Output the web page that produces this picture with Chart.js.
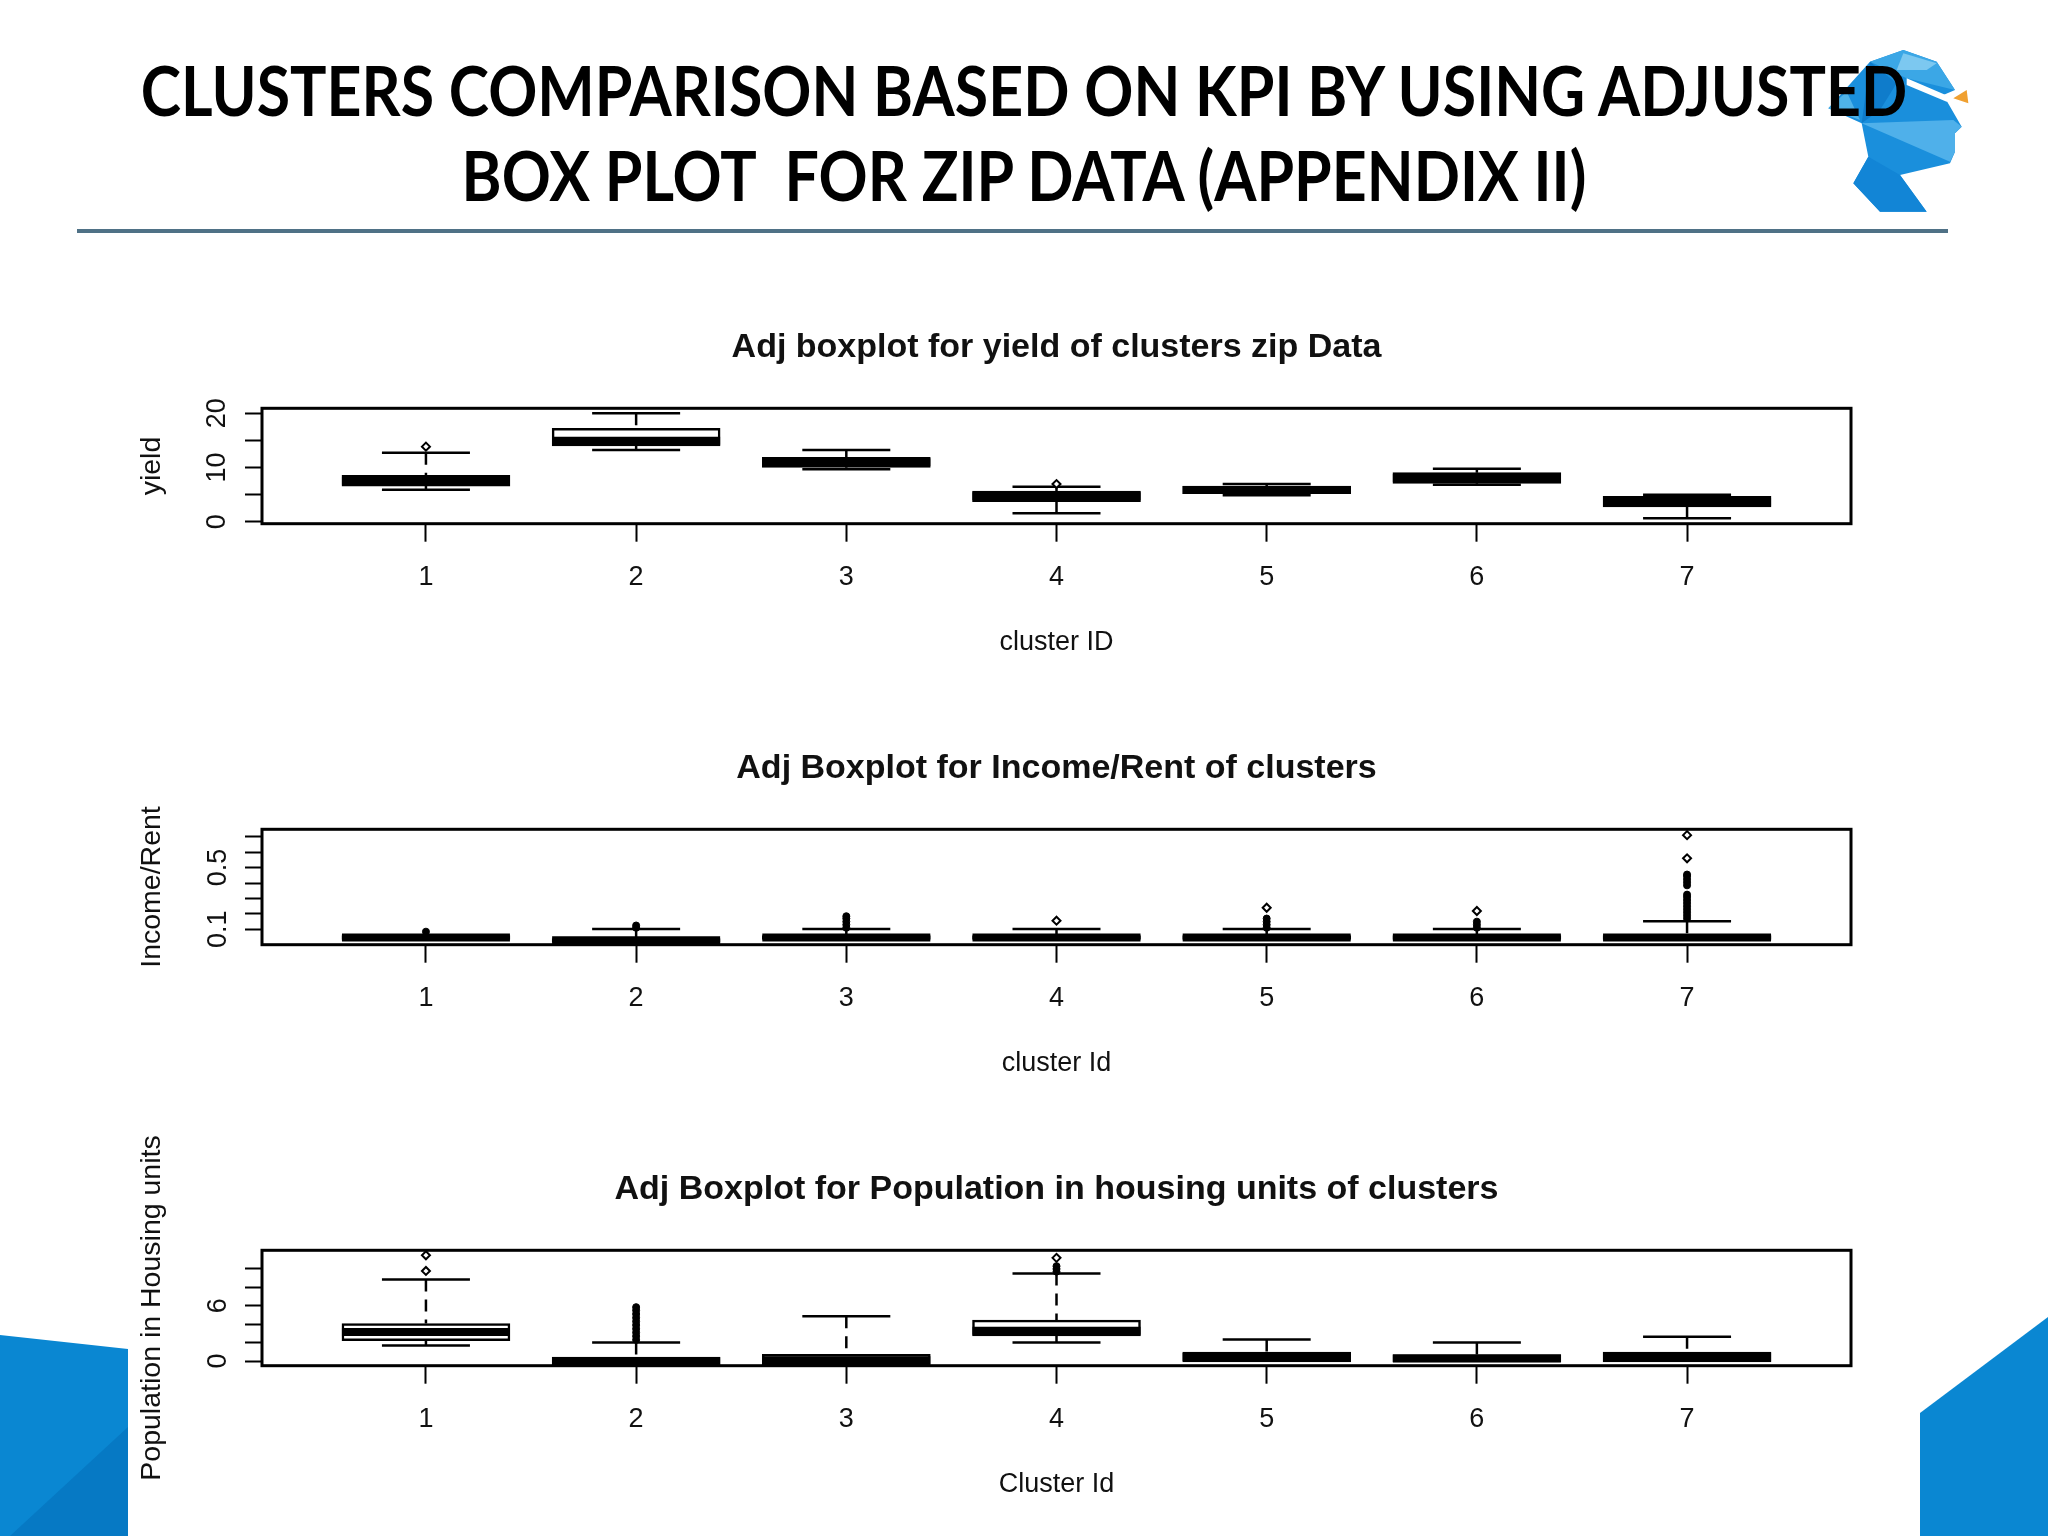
<!DOCTYPE html>
<html lang="en">
<head>
<meta charset="utf-8">
<title>Clusters comparison</title>
<script src="https://cdn.jsdelivr.net/npm/chart.js@4/dist/chart.umd.min.js"></script>
<style>
    html, body { margin: 0; padding: 0; background: #fff; }
    #slide { position: relative; width: 2048px; height: 1536px; overflow: hidden; background: #fff; }
    #slide > svg { position: absolute; }
    #slide canvas { position: absolute; left: 0; }
    #heading {
        position: absolute; left: 0; top: 47px; width: 2048px; text-align: center;
        font: 700 68px/85px Lato, sans-serif; color: #000; white-space: pre;
        transform: scaleX(0.895);
    }
    #rule { position: absolute; left: 77px; top: 229px; width: 1871px; height: 4px; background: #4f7186; }
</style>
</head>
<body>
<div id="slide">
    <svg style="left:0;top:0" width="2048" height="1536">
        <polygon points="0,1335 128,1349 128,1536 0,1536" fill="#0a87d2"/>
        <polygon points="128,1427 128,1536 10,1536" fill="#0679c4"/>
        <polygon points="1920,1413 2048,1317 2048,1536 1920,1536" fill="#0a87d2"/>
    </svg>
    <svg style="left:1780px;top:20px" width="220" height="220" viewBox="0 0 660 660">
        <polygon points="145,265 270,125 370,90 470,125 525,210 490,225 545,320 525,340 525,395 510,430 360,465 440,575 300,575 220,490 265,410 245,310" fill="#1a8fdc"/>
        <polygon points="270,125 370,90 470,125 525,210 380,175" fill="#3ba7e6"/>
        <polygon points="370,100 470,130 440,150 350,150" fill="#7cc8f0"/>
        <polygon points="245,310 270,125 350,190 300,270" fill="#0f7ccb"/>
        <polygon points="245,310 520,300 545,320 525,340 525,395 510,425" fill="#4fb0ea"/>
        <polygon points="220,490 265,410 360,465 440,575 300,575" fill="#1285d6"/>
        <polygon points="145,265 200,215 240,300" fill="#4fb3e8"/>
        <polygon points="380,175 520,235 500,245 380,195" fill="#fff"/>
        <polygon points="520,235 560,210 565,250" fill="#f0a030"/>
    </svg>
    <div id="heading">CLUSTERS COMPARISON BASED ON KPI BY USING ADJUSTED
BOX PLOT  FOR ZIP DATA (APPENDIX II)</div>
    <div id="rule"></div>
    <canvas id="yieldChart" width="2048" height="421" style="top:250px"></canvas>
    <canvas id="incomeChart" width="2048" height="421" style="top:671px"></canvas>
    <canvas id="populationChart" width="2048" height="421" style="top:1092px"></canvas>
</div>

<script>
const categories = [1, 2, 3, 4, 5, 6, 7];

// yield panel
const yieldQ1 = [6.58, 13.97, 10.03, 3.69, 5.17, 7.08, 2.71];
const yieldMedian = [7.57, 14.95, 10.95, 4.68, 5.85, 8.06, 3.7];
const yieldQ3 = [8.55, 17.23, 11.88, 5.66, 6.58, 9.05, 4.68];
const yieldLow = [5.9, 13.23, 9.66, 1.54, 4.86, 6.83, 0.62];
const yieldHigh = [12.74, 20, 13.23, 6.46, 6.95, 9.78, 4.98];
const yieldOutliers = [[13.85], [], [], [6.95], [], [], []];
const yieldDense = [[], [], [], [], [], [], []];
const yieldTicks = [0, 5, 10, 15, 20];
const yieldLabels = [0, 10, 20];

// income / rent panel
const incomeQ1 = [0.035, 0.015, 0.035, 0.035, 0.035, 0.035, 0.035];
const incomeMedian = [0.048, 0.029, 0.048, 0.048, 0.048, 0.048, 0.048];
const incomeQ3 = [0.06, 0.04, 0.06, 0.06, 0.06, 0.06, 0.06];
const incomeLow = [0.04, 0.02, 0.04, 0.04, 0.04, 0.04, 0.04];
const incomeHigh = [0.055, 0.102, 0.102, 0.102, 0.102, 0.102, 0.152];
const incomeOutliers = [[], [], [], [0.156], [0.24], [0.219], [0.56, 0.71]];
const incomeDense = [
    [0.085],
    [0.11, 0.125],
    [0.11, 0.13, 0.15, 0.17, 0.185],
    [],
    [0.11, 0.13, 0.15, 0.17],
    [0.11, 0.13, 0.15],
    [0.17, 0.19, 0.21, 0.23, 0.25, 0.27, 0.29, 0.31, 0.325, 0.385, 0.405, 0.425, 0.445, 0.455]
];
const incomeTicks = [0.1, 0.2, 0.3, 0.4, 0.5, 0.6, 0.7];
const incomeLabels = [0.1, 0.5];

// population panel
const populationQ1 = [2.2, -0.45, -0.45, 2.74, -0.1, -0.1, -0.1];
const populationMedian = [3.14, -0.03, 0.1, 3.28, 0.43, 0.29, 0.43];
const populationQ3 = [4.08, 0.43, 0.72, 4.44, 0.97, 0.69, 0.97];
const populationLow = [1.7, -0.3, -0.3, 2.02, 0.2, 0.2, 0.2];
const populationHigh = [8.84, 2.02, 4.87, 9.49, 2.35, 2.02, 2.64];
const populationOutliers = [[9.78, 11.48], [], [], [11.2], [], [], []];
const populationDense = [
    [],
    [2.3, 2.7, 3.1, 3.5, 3.9, 4.3, 4.7, 5.1, 5.5, 5.85],
    [],
    [9.7, 10.0, 10.3],
    [], [], []
];
const populationTicks = [0, 2, 4, 6, 8, 10];
const populationLabels = [0, 6];

const inkColor = '#000';
const textColor = '#111';
const labelFont = { family: '"Liberation Sans", Arial, sans-serif', size: 27 };
const yTitleFont = { family: labelFont.family, size: 28.5 };

const boxFrame = {
    id: 'boxFrame',
    afterDatasetsDraw(chart) {
        const { ctx, chartArea } = chart;
        ctx.save();
        ctx.strokeStyle = inkColor;
        ctx.lineWidth = 3;
        ctx.strokeRect(chartArea.left, chartArea.top, chartArea.right - chartArea.left, chartArea.bottom - chartArea.top);
        ctx.restore();
    },
};

function stemData(low, q1, q3, high) {
    const points = [];
    categories.forEach((c, i) => {
        points.push({ x: c, y: high[i] }, { x: c, y: q3[i] }, { x: c, y: null });
        points.push({ x: c, y: low[i] }, { x: c, y: q1[i] }, { x: c, y: null });
    });
    return points;
}

function pointData(lists) {
    const points = [];
    categories.forEach((c, i) => lists[i].forEach((v) => points.push({ x: c, y: v })));
    return points;
}

function drawPanel(id, panel) {
    const markStyle = { showLine: false, pointBorderColor: inkColor };
    new Chart(document.getElementById(id).getContext('2d'), {
        type: 'bar',
        data: {
            datasets: [
                {
                    type: 'line', order: 6, data: stemData(panel.low, panel.q1, panel.q3, panel.high),
                    borderColor: inkColor, borderWidth: 2.5, borderDash: [12, 8], pointRadius: 0, spanGaps: false,
                },
                {
                    type: 'bar', order: 5, grouped: false, barThickness: 168,
                    data: categories.map((c, i) => ({ x: c, y: [panel.q1[i], panel.q3[i]] })),
                    backgroundColor: '#fff', borderColor: inkColor, borderWidth: 2.5, borderSkipped: false,
                },
                {
                    type: 'line', order: 4, ...markStyle,
                    data: categories.map((c, i) => ({ x: c, y: panel.median[i] })),
                    pointStyle: 'line', pointRadius: 84, pointBorderWidth: 8,
                },
                {
                    type: 'line', order: 3, ...markStyle,
                    data: categories.flatMap((c, i) => [{ x: c, y: panel.low[i] }, { x: c, y: panel.high[i] }]),
                    pointStyle: 'line', pointRadius: 44, pointBorderWidth: 2.5,
                },
                {
                    type: 'line', order: 2, ...markStyle, data: pointData(panel.outliers),
                    pointStyle: 'rectRot', pointRadius: 4, pointBorderWidth: 2, pointBackgroundColor: '#fff',
                },
                {
                    type: 'line', order: 1, ...markStyle, data: pointData(panel.dense),
                    pointStyle: 'circle', pointRadius: 3.5, pointBorderWidth: 1, pointBackgroundColor: inkColor,
                },
            ],
        },
        options: {
            responsive: false,
            animation: false,
            layout: { padding: { left: 0, right: 197, top: 0, bottom: 0 } },
            plugins: {
                legend: { display: false },
                tooltip: { enabled: false },
                title: {
                    display: true,
                    fullSize: false,
                    text: panel.title,
                    color: textColor,
                    font: { family: labelFont.family, size: 34, weight: 'bold', lineHeight: 1.2 },
                    padding: { top: 77, bottom: 40.5 },
                },
            },
            scales: {
                x: {
                    type: 'linear',
                    offset: false,
                    min: 0.22,
                    max: 7.78,
                    afterFit(scale) { scale.height = 147.3; },
                    afterBuildTicks(scale) { scale.ticks = categories.map((c) => ({ value: c })); },
                    grid: { offset: false, drawOnChartArea: false, tickLength: 18, tickWidth: 2, tickColor: inkColor },
                    border: { display: false },
                    ticks: { color: textColor, font: labelFont, padding: 20, maxRotation: 0, autoSkip: false, callback: (v) => v },
                    title: { display: true, text: panel.xTitle, color: textColor, font: labelFont, padding: { top: 0, bottom: 12.3 } },
                },
                y: {
                    type: 'linear',
                    min: panel.yMin,
                    max: panel.yMax,
                    afterFit(scale) { scale.width = 262; },
                    afterBuildTicks(scale) { scale.ticks = panel.ticks.map((v) => ({ value: v })); },
                    grid: { drawOnChartArea: false, tickLength: 17, tickWidth: 2, tickColor: inkColor },
                    border: { display: false },
                    ticks: {
                        color: textColor, font: labelFont, padding: panel.tickPadding, minRotation: 90, maxRotation: 90,
                        crossAlign: 'center', autoSkip: false,
                        callback: (v) => (panel.labels.includes(v) ? String(v) : ''),
                    },
                    title: { display: true, text: panel.yTitle, color: textColor, font: yTitleFont, padding: { top: 135.5, bottom: 0 } },
                },
            },
        },
        plugins: [boxFrame],
    });
}

drawPanel('yieldChart', {
    title: 'Adj boxplot for yield of clusters zip Data', xTitle: 'cluster ID', yTitle: 'yield',
    q1: yieldQ1, median: yieldMedian, q3: yieldQ3, low: yieldLow, high: yieldHigh,
    outliers: yieldOutliers, dense: yieldDense, ticks: yieldTicks, labels: yieldLabels,
    yMin: -0.37, yMax: 20.93, tickPadding: 12,
});
drawPanel('incomeChart', {
    title: 'Adj Boxplot for Income/Rent of clusters', xTitle: 'cluster Id', yTitle: 'Income/Rent',
    q1: incomeQ1, median: incomeMedian, q3: incomeQ3, low: incomeLow, high: incomeHigh,
    outliers: incomeOutliers, dense: incomeDense, ticks: incomeTicks, labels: incomeLabels,
    yMin: 0.0006, yMax: 0.748, tickPadding: 8,
});
drawPanel('populationChart', {
    title: 'Adj Boxplot for Population in housing units of clusters', xTitle: 'Cluster Id', yTitle: 'Population in Housing units',
    q1: populationQ1, median: populationMedian, q3: populationQ3, low: populationLow, high: populationHigh,
    outliers: populationOutliers, dense: populationDense, ticks: populationTicks, labels: populationLabels,
    yMin: -0.505, yMax: 12.02, tickPadding: 19,
});
</script>
</body>
</html>
